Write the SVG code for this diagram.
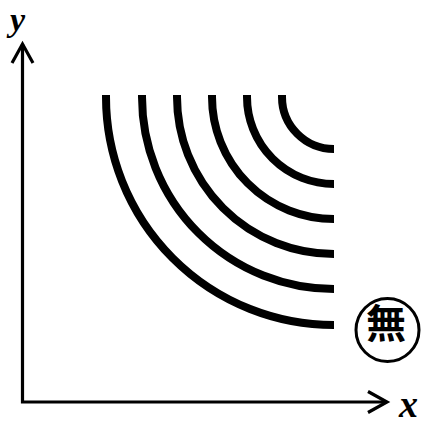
<svg xmlns="http://www.w3.org/2000/svg" width="422" height="428" viewBox="0 0 422 428">
<style>
.ax{fill:none;stroke:#000;stroke-width:3.2;stroke-linecap:butt;stroke-linejoin:miter}
.arc{fill:none;stroke:#000;stroke-width:8}
.lbl{font-family:"Liberation Serif","DejaVu Serif",serif;font-weight:bold;font-style:italic;fill:#000}
</style>
<rect width="422" height="428" fill="#fff"/>
<g id="axes">
<path class="ax" d="M22.5,44 V402 H386"/>
<path class="ax" d="M12,63 L22.5,44 L33,63"/>
<path class="ax" d="M368,391.5 L387,402 L368,412.5"/>
</g>
<g id="arcs">
<path class="arc" d="M282,95 V97 A52,52 0 0 0 334,149"/>
<path class="arc" d="M247,95 V97 A87,87 0 0 0 334,184"/>
<path class="arc" d="M212,95 V97 A122,122 0 0 0 334,219"/>
<path class="arc" d="M177,95 V97 A157,157 0 0 0 334,254"/>
<path class="arc" d="M142,95 V97 A192,192 0 0 0 334,289"/>
<path class="arc" d="M106,95 V97 A228,228 0 0 0 334,325"/>
</g>
<g id="labels">
<text class="lbl" x="10" y="30.5" font-size="34">y</text>
<text class="lbl" x="399" y="417" font-size="38">x</text>
</g>
<g id="mu">
<circle cx="387.5" cy="330" r="31.5" fill="none" stroke="#000" stroke-width="3"/>
<text x="386" y="338" font-size="40" font-weight="bold" text-anchor="middle" font-family="'Noto Sans CJK JP','Noto Sans CJK SC',sans-serif">無</text>
</g>
</svg>
